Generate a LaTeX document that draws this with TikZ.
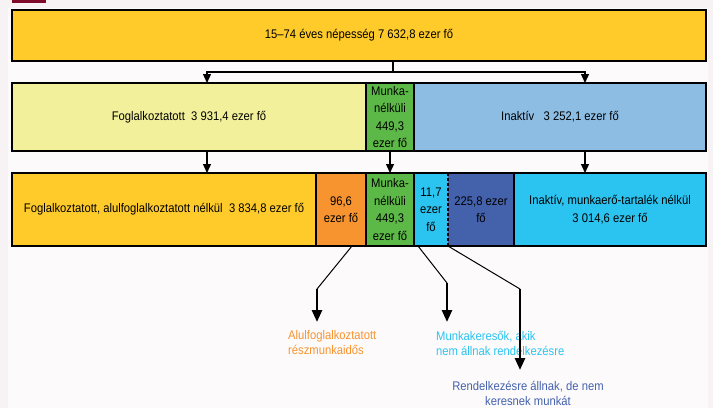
\documentclass[tikz,border=0pt]{standalone}
\usepackage{fontspec}
\setmainfont{Liberation Sans}[FakeStretch=0.9]
\usetikzlibrary{arrows.meta, positioning}

\definecolor{amber}{HTML}{FFCB2B}
\definecolor{lemon}{HTML}{F2F09A}
\definecolor{leaf}{HTML}{5DB947}
\definecolor{sky}{HTML}{8EBDE4}
\definecolor{tangerine}{HTML}{F7942F}
\definecolor{cyanblue}{HTML}{2BC4F1}
\definecolor{navy}{HTML}{4462AC}
\definecolor{wine}{HTML}{7F0A2A}
\definecolor{pagebg}{HTML}{F7F2F4}
\definecolor{panelbg}{HTML}{FCFAFB}

\tikzset{
    box/.style={draw, line width=1.6pt, outer sep=0pt, inner sep=1pt, align=center,
        font=\fontsize{12.5}{17.5}\selectfont},
    rim/.style={line width=1.6pt},
    tip/.style={line width=1.3pt, -{Triangle[width=8pt,length=9pt]}},
    bigtip/.style={line width=2.6pt, -{Triangle[width=10pt,length=12pt]}},
    lead/.style={line width=1pt},
    note/.style={inner sep=0pt, align=left, font=\fontsize{12.5}{15}\selectfont},
}

\begin{document}
\begin{tikzpicture}[x=1pt, y=-1pt]
        % Page
        \fill[pagebg] (0,0) rectangle (713,408);
        \fill[panelbg] (8,8) rectangle (708,408);
        \fill[wine] (12,0) rectangle (46,2.5);
        \useasboundingbox (0,0) rectangle (713,408);

        % Draw the boxes
        \node[box, fill=amber, minimum width=694pt, minimum height=51pt, anchor=north west]
            (pop) at (12,10) {15–74 éves népesség 7 632,8 ezer fő};

        \node[box, fill=lemon, minimum width=354pt, minimum height=68pt, anchor=north west]
            (emp) at (12,83) {Foglalkoztatott\ \ 3 931,4 ezer fő};
        \node[box, fill=leaf, minimum width=48pt, minimum height=68pt, right=0pt of emp]
            (unemp) {Munka-\\nélküli\\449,3\\ezer fő};
        \node[box, fill=sky, minimum width=292pt, minimum height=68pt, right=0pt of unemp]
            (inact) {Inaktív\ \ \ 3 252,1 ezer fő};

        \node[box, fill=amber, minimum width=304pt, minimum height=73pt, anchor=north west]
            (full) at (12,173) {Foglalkoztatott, alulfoglalkoztatott nélkül\ \ 3 834,8 ezer fő};
        \node[box, fill=tangerine, minimum width=50pt, minimum height=73pt, right=0pt of full]
            (under) {96,6\\ezer fő};
        \node[box, fill=leaf, minimum width=48pt, minimum height=73pt, right=0pt of under]
            (unempB) {Munka-\\nélküli\\449,3\\ezer fő};
        \node[box, draw=none, fill=cyanblue, minimum width=34pt, minimum height=73pt, right=0pt of unempB]
            (nosearch) {11,7\\ezer\\fő};
        \node[box, draw=none, fill=navy, minimum width=66pt, minimum height=73pt, right=0pt of nosearch]
            (avail) {225,8 ezer\\fő};
        \node[box, fill=cyanblue, minimum width=192pt, minimum height=73pt, right=0pt of avail]
            (rest) {Inaktív, munkaerő-tartalék nélkül\\3 014,6 ezer fő};

        % Borders of the two unframed boxes
        \draw[rim] (nosearch.north west) -- (avail.north east)
                   (nosearch.south west) -- (avail.south east)
                   (nosearch.north west) -- (nosearch.south west);
        \draw[line width=1.2pt, dash pattern=on 3pt off 2pt] (nosearch.north east) -- (nosearch.south east);

        % Labels under the boxes
        \node[note, text=tangerine, anchor=west] (ulbl) at (288,343) {Alulfoglalkoztatott\\részmunkaidős};
        \node[note, text=cyanblue, anchor=west] (slbl) at (436,343) {Munkakeresők, akik\\nem állnak rendelkezésre};
        \node[note, text=navy, align=center] (albl) at (528,393) {Rendelkezésre állnak, de nem\\keresnek munkát};

        % Connect the rows
        \coordinate (split) at (393,72);
        \draw[line width=1.3pt] (pop.south -| split) -- (split);
        \draw[tip] (split) -| (emp.north -| 207,0);
        \draw[tip] (split) -| (inact.north -| 585,0);
        \draw[tip] (emp.south -| 207,0) -- (full.north -| 207,0);
        \draw[tip] (unemp.south) -- (unempB.north);
        \draw[tip] (inact.south -| 585,0) -- (rest.north -| 585,0);

        % Connect the boxes to the labels
        \coordinate (k1) at (317,289);
        \coordinate (k2) at (447,283);
        \coordinate (k3) at (520,289);
        \coordinate (e1) at (317,322);
        \coordinate (e2) at (447,322);
        \coordinate (e3) at (520,370);
        \draw[lead] (under.south -| 352,0) -- (k1);
        \draw[lead] (nosearch.south -| 418,0) -- (k2);
        \draw[lead] (nosearch.south east) -- (k3);
        \draw[bigtip] (k1) -- (e1);
        \draw[bigtip] (k2) -- (e2);
        \draw[bigtip] (k3) -- (e3);
\end{tikzpicture}
\end{document}
